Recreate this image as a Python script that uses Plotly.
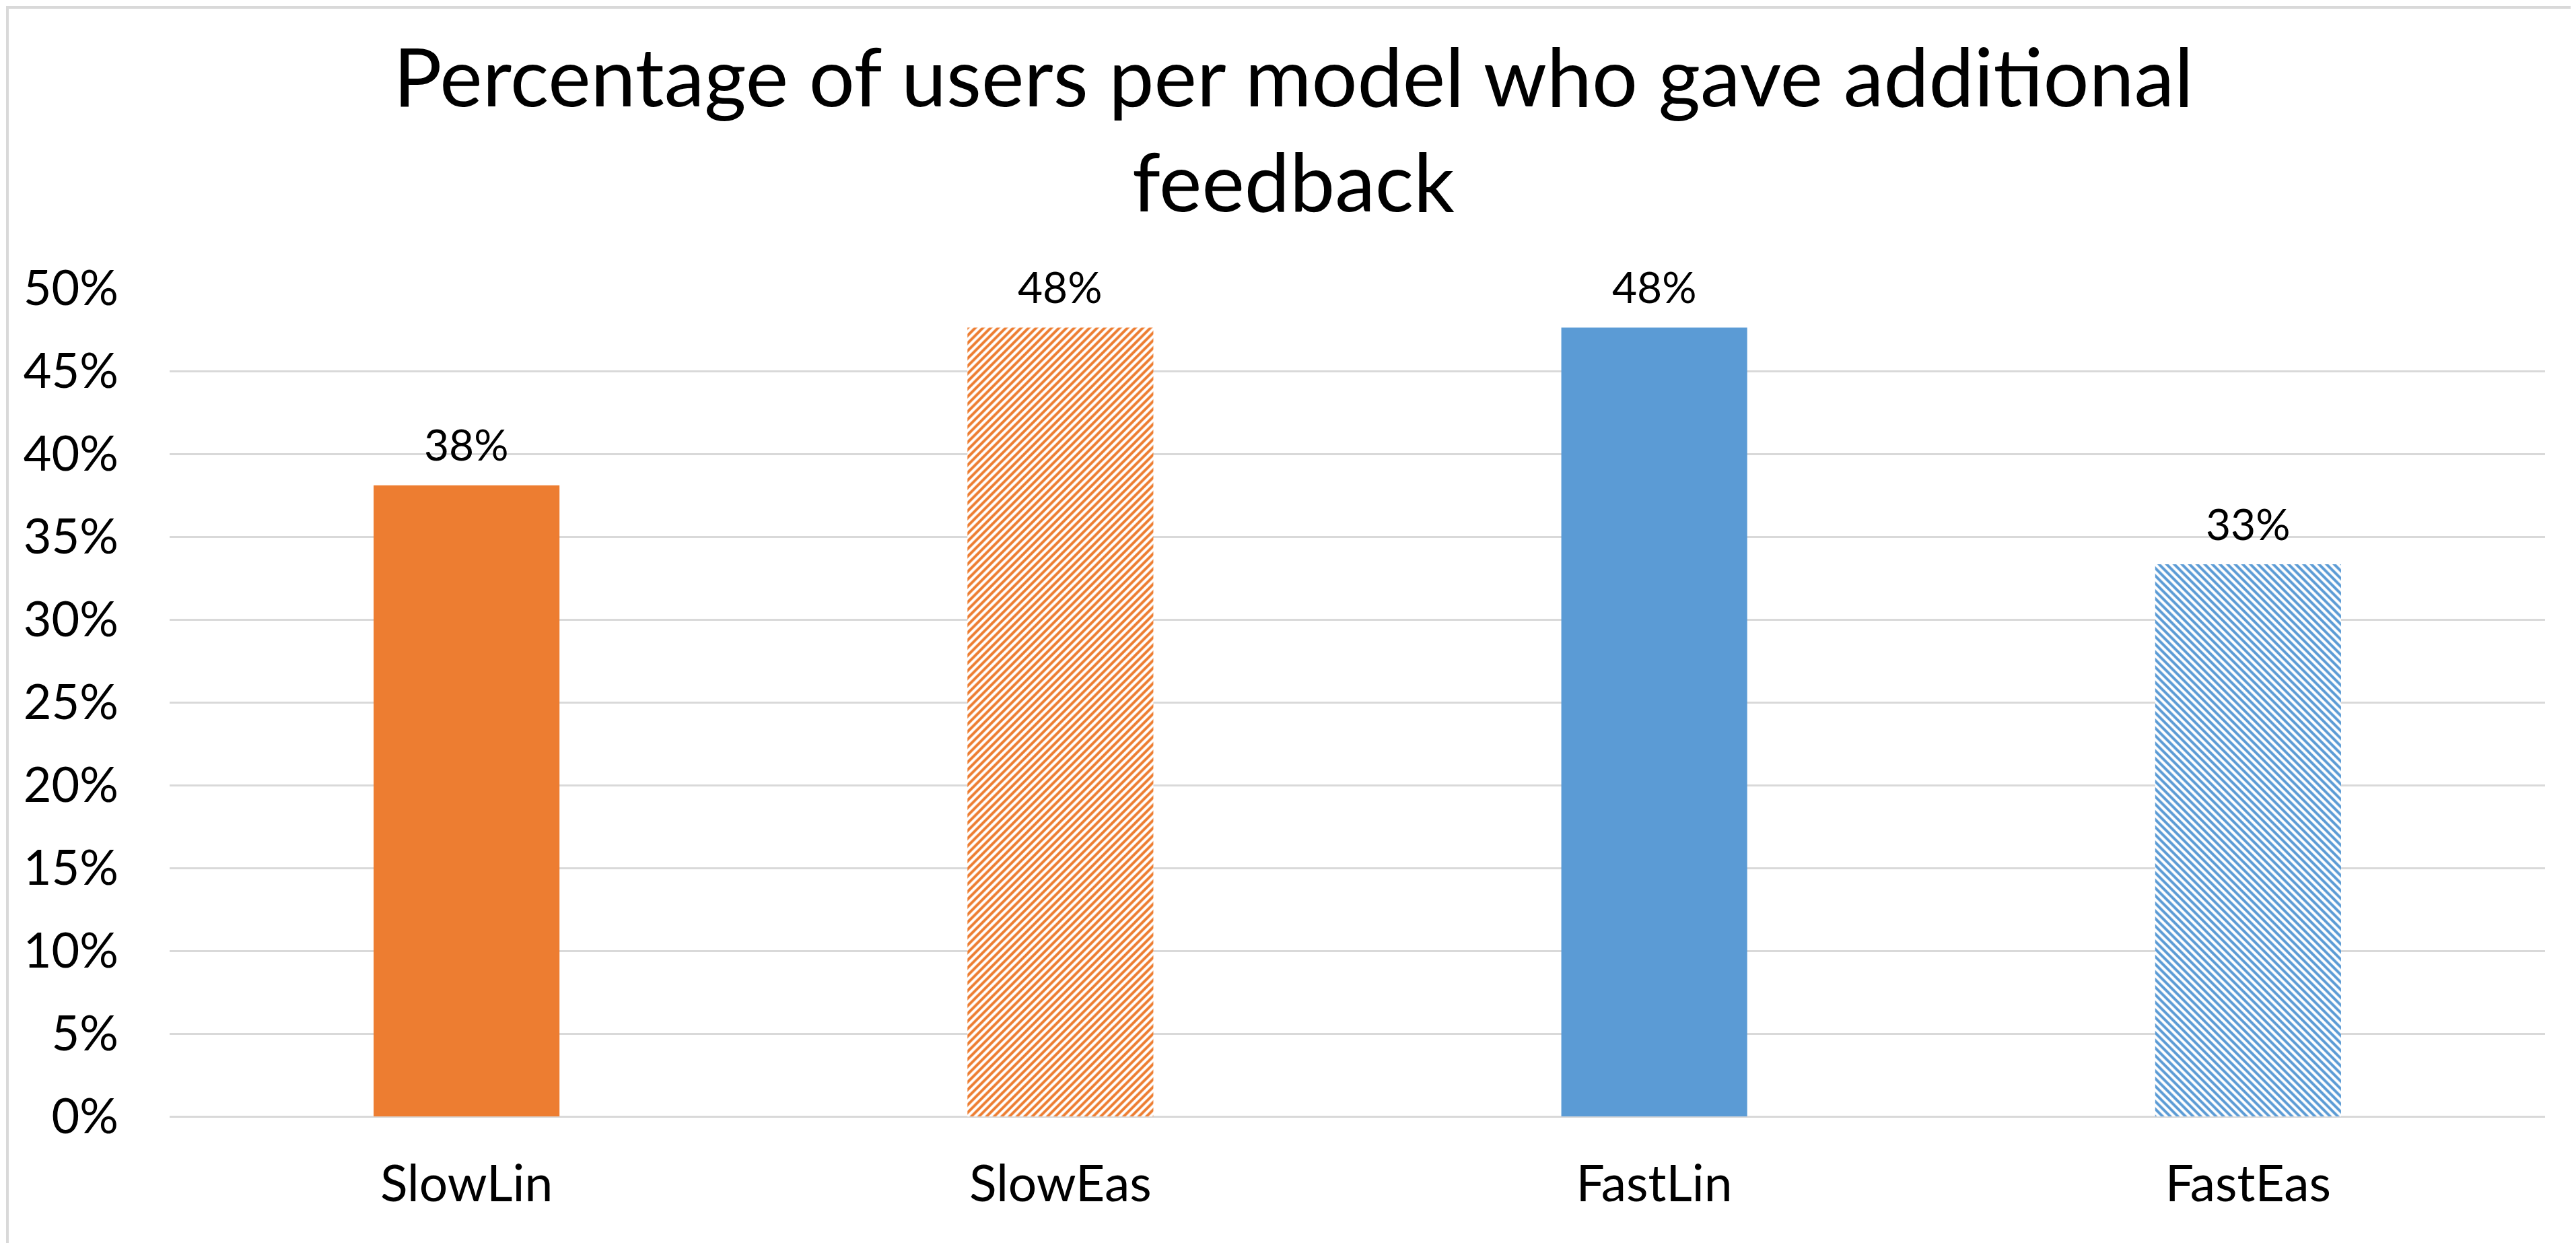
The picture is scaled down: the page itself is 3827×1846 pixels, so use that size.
import plotly.graph_objects as go

categories = ["SlowLin", "SlowEas", "FastLin", "FastEas"]
values = [8/21, 10/21, 10/21, 1/3]
colors = ["#ED7D31", "#ED7D31", "#5B9BD5", "#5B9BD5"]
patterns = ["", "/", "", "\\"]
title_text = "Percentage of users per model who gave additional<br>feedback"

W, H = 3827, 1846
L, R, T, B = 244, 54, 420, 196
FONT = "Lato"

fig = go.Figure()
for cat, val, col, pat in zip(categories, values, colors, patterns):
    if pat:
        marker = dict(
            color="white",
            line=dict(width=0),
            pattern=dict(shape=pat, fgcolor=col, bgcolor="white", fgopacity=1,
                         size=8, solidity=0.5, fillmode="overlay"),
        )
    else:
        marker = dict(color=col, line=dict(width=0))
    fig.add_trace(go.Bar(
        x=[cat], y=[val], width=0.313, marker=marker,
        showlegend=False, hoverinfo="x+y",
    ))

for cat, val in zip(categories, values):
    fig.add_annotation(
        x=cat, y=val, text=f"{val:.0%}", showarrow=False,
        xanchor="center", yanchor="middle", yshift=61,
        font=dict(family=FONT, size=64, color="#000000"),
    )

pw = W - L - R
ph = H - T - B
fig.add_shape(
    type="rect", xref="paper", yref="paper",
    x0=-(L - 3) / pw, x1=1 + (R - 3) / pw,
    y0=-(B - 3) / ph, y1=1 + (T - 3) / ph,
    line=dict(color="#D9D9D9", width=4), fillcolor="rgba(0,0,0,0)",
    layer="below",
)

fig.update_layout(
    width=W, height=H,
    margin=dict(l=L, r=R, t=T, b=B, pad=0),
    paper_bgcolor="white", plot_bgcolor="white",
    barmode="overlay",
    title=dict(
        text=title_text,
        x=0.5, xanchor="center", xref="container",
        y=1 - 150 / H, yanchor="top",
        font=dict(family=FONT, size=120, color="#000000"),
    ),
    xaxis=dict(
        showgrid=False, showline=False, ticks="",
        tickfont=dict(family=FONT, size=75, color="#000000"),
        ticklabelstandoff=50,
    ),
    yaxis=dict(
        range=[0, 0.5],
        dtick=0.05,
        tickformat=".0%",
        showgrid=True, gridcolor="#D9D9D9", gridwidth=3,
        zeroline=True, zerolinecolor="#D9D9D9", zerolinewidth=3,
        showline=False, ticks="",
        tickfont=dict(family=FONT, size=72, color="#000000"),
        ticklabelstandoff=75,
    ),
)

fig.write_html("out.html")
